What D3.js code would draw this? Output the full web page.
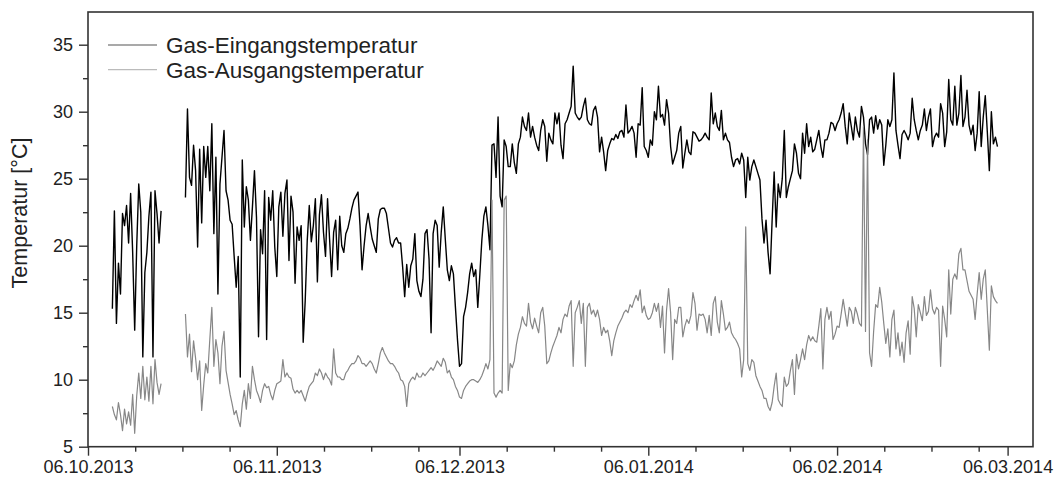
<!DOCTYPE html>
<html>
<head>
<meta charset="utf-8">
<script src="https://cdn.jsdelivr.net/npm/d3@7"></script>
<style>
  body { margin: 0; background: #fff; }
  svg { display: block; }
</style>
</head>
<body>
<svg id="chart"></svg>
<script>
// readings taken every 1/3 day, starting a number of days after 06.10.2013
const stepDays = 1 / 3;
const segmentStartDays = [4, 16];

// Gas-Eingangstemperatur, first and second measuring period (°C)
const eingang1 = [15.3, 22.6, 14.2, 18.7, 16.4, 22.4, 21.5, 23.0, 20.2, 23.9, 19.5, 13.7, 20.0, 24.6, 22.5, 11.7, 18.0, 19.5, 22.2, 24.0, 11.7, 24.1, 22.4, 20.2, 22.6];
const eingang2 = [
  23.6, 30.2, 25.1, 24.5, 27.5, 25.6, 19.9, 27.2, 21.7, 27.4,
  25.1, 27.4, 24.1, 29.1, 20.9, 26.6, 16.4, 24.6, 26.6, 28.6,
  24.1, 23.4, 21.9, 21.6, 19.2, 16.9, 19.2, 10.2, 26.4, 21.4,
  24.4, 23.4, 20.4, 22.9, 25.6, 22.1, 13.2, 21.2, 19.4, 24.1,
  13.0, 23.6, 21.9, 24.1, 19.9, 17.7, 22.9, 24.0, 20.7, 23.9,
  24.9, 18.9, 23.7, 22.5, 17.2, 21.4, 20.4, 21.5, 12.8, 15.9,
  20.4, 23.0, 20.3, 21.5, 23.5, 17.3, 22.3, 23.8, 21.0, 19.2,
  23.5, 20.5, 17.7, 21.0, 21.9, 18.2, 22.2, 20.0, 19.5, 20.9,
  21.3, 22.0, 22.8, 23.4, 23.7, 24.0, 21.5, 18.2, 20.0, 21.5,
  22.4, 21.4, 20.5, 20.0, 19.5, 22.0, 22.7, 22.8, 22.8, 22.4,
  21.3, 20.2, 19.9, 20.4, 20.6, 20.2, 20.2, 18.4, 16.2, 18.6,
  16.9, 18.5, 19.0, 20.9, 17.4, 16.6, 16.2, 17.5, 20.9, 21.2,
  19.0, 13.5, 20.9, 21.9, 21.5, 18.4, 21.0, 22.9, 20.5, 18.2,
  17.4, 18.5, 17.9, 15.4, 13.0, 11.0, 11.2, 14.7, 15.4, 16.5,
  17.9, 18.7, 17.7, 18.2, 15.4, 17.8, 20.4, 22.2, 22.9, 21.5,
  19.7, 27.5, 27.6, 25.1, 29.6, 23.7, 22.9, 27.9, 27.4, 25.9,
  25.9, 27.6, 26.2, 25.4, 27.6, 28.1, 29.6, 28.9, 28.6, 29.9,
  28.1, 28.9, 28.1, 27.5, 27.1, 28.6, 29.4, 28.9, 26.3, 28.4,
  27.9, 27.6, 29.9, 29.1, 29.9, 27.5, 26.5, 29.1, 29.4, 29.9,
  30.4, 33.4, 29.9, 29.6, 29.4, 29.6, 30.4, 31.0, 29.4, 29.1,
  29.0, 30.1, 30.4, 29.6, 27.0, 28.1, 27.0, 25.6, 27.1, 27.6,
  28.0, 27.9, 28.3, 28.0, 28.5, 28.6, 28.1, 30.5, 28.4, 28.6,
  28.9, 28.4, 26.6, 29.1, 29.0, 31.8, 27.4, 27.1, 26.6, 27.9,
  27.5, 30.0, 29.4, 31.9, 29.6, 29.8, 29.0, 30.9, 29.9, 27.4,
  26.1, 26.6, 27.1, 28.4, 28.9, 25.8, 26.9, 27.9, 27.0, 26.8,
  28.5, 28.4, 28.1, 27.8, 27.9, 28.1, 28.4, 28.1, 27.9, 31.4,
  29.1, 29.9, 28.9, 28.6, 30.1, 27.9, 28.4, 27.9, 27.7, 26.6,
  25.9, 26.4, 26.5, 26.1, 26.9, 26.4, 23.6, 26.6, 24.9, 25.9,
  26.4, 25.9, 25.4, 24.9, 22.0, 20.2, 21.9, 19.5, 17.9, 21.9,
  25.5, 21.4, 24.6, 23.6, 25.0, 28.6, 23.6, 24.4, 25.0, 25.6,
  27.6, 26.9, 25.4, 25.0, 28.4, 26.9, 29.1, 27.4, 28.1, 27.0,
  27.2, 27.9, 28.6, 27.4, 26.6, 27.9, 27.9, 28.4, 29.2, 29.1,
  28.6, 29.1, 29.4, 29.9, 30.6, 28.9, 27.6, 29.9, 28.9, 27.9,
  29.6, 28.6, 28.1, 30.4, 29.6, 27.6, 26.8, 29.4, 29.6, 28.4,
  29.7, 28.7, 29.4, 29.0, 26.0, 27.5, 29.4, 28.9, 29.4, 32.9,
  28.6, 27.5, 26.5, 28.3, 28.6, 28.3, 27.9, 28.4, 31.0, 29.4,
  28.6, 27.9, 28.6, 29.0, 30.2, 28.6, 29.6, 30.2, 27.4, 28.1,
  28.4, 28.1, 30.6, 29.9, 27.4, 28.5, 32.4, 29.4, 29.0, 31.9,
  29.0, 29.9, 32.7, 28.9, 29.6, 31.6, 29.0, 28.3, 29.0, 27.1,
  28.4, 31.5, 27.4, 29.6, 31.2, 28.5, 25.6, 30.0, 27.6, 28.1,
  27.4
];

// Gas-Ausgangstemperatur, first and second measuring period (°C)
const ausgang1 = [8.0, 7.4, 7.0, 8.3, 7.4, 6.2, 7.8, 6.7, 7.6, 6.6, 8.9, 6.0, 8.8, 10.5, 8.6, 11.0, 8.5, 10.2, 8.4, 11.0, 8.2, 11.5, 9.8, 8.9, 9.7];
const ausgang2 = [
  14.9, 11.7, 13.4, 10.6, 12.9, 11.6, 10.0, 11.4, 7.7, 9.6,
  11.2, 10.5, 13.0, 15.4, 11.0, 13.0, 12.0, 9.7, 12.5, 13.6,
  10.7, 9.8, 8.9, 8.2, 7.4, 7.7, 7.0, 6.5, 8.2, 9.2,
  7.8, 9.7, 8.6, 11.0, 10.0, 9.2, 8.8, 8.3, 9.2, 9.7,
  9.4, 9.5, 8.9, 8.5, 9.2, 9.7, 9.8, 9.9, 11.5, 10.2,
  10.5, 10.2, 10.1, 9.3, 9.0, 9.2, 9.0, 9.2, 8.8, 8.4,
  9.0, 9.5, 9.7, 9.9, 10.5, 10.3, 10.8, 10.5, 10.0, 10.5,
  10.2, 10.0, 9.6, 12.3, 10.5, 10.2, 10.2, 10.0, 10.0, 10.5,
  10.7, 11.0, 11.2, 11.2, 11.4, 11.8, 11.6, 11.2, 11.2, 11.0,
  11.2, 11.4, 11.2, 10.8, 10.5, 11.2, 12.0, 12.4, 12.0, 11.7,
  11.4, 11.2, 11.2, 11.0, 10.7, 10.5, 10.0, 9.9, 9.5, 8.0,
  9.7, 10.0, 10.2, 10.0, 10.5, 10.2, 10.2, 10.5, 10.3, 10.5,
  10.7, 10.9, 10.7, 11.0, 11.4, 11.2, 11.0, 11.6, 11.3, 10.5,
  10.7, 10.2, 10.0, 9.5, 9.2, 8.7, 8.6, 9.2, 9.5, 9.7,
  9.9, 10.0, 10.0, 9.9, 9.8, 10.0, 10.3, 10.7, 11.2, 10.8,
  11.5, 23.4, 9.0, 8.7, 9.0, 9.2, 9.0, 23.4, 23.7, 9.2,
  11.2, 10.9, 11.4, 12.6, 13.4, 13.9, 14.7, 14.2, 14.0, 15.7,
  14.3, 13.8, 14.6, 14.0, 13.5, 15.0, 15.4, 14.0, 11.2, 11.4,
  12.0, 12.5, 12.9, 13.3, 13.9, 13.5, 14.5, 14.9, 14.7, 15.5,
  15.9, 11.0, 15.0, 15.4, 15.9, 14.2, 15.7, 11.0, 15.4, 15.7,
  14.9, 15.2, 14.7, 15.2, 14.5, 13.3, 13.9, 13.5, 13.7, 12.9,
  11.8, 12.9, 13.5, 14.0, 14.3, 14.6, 15.0, 15.2, 15.0, 15.6,
  15.4, 15.9, 16.3, 15.9, 16.7, 15.0, 15.5, 14.8, 14.5, 14.6,
  15.0, 15.7, 15.1, 15.7, 13.9, 15.5, 12.0, 15.2, 16.8, 15.0,
  11.5, 14.5, 14.2, 15.4, 15.4, 13.2, 14.0, 14.5, 14.2, 14.8,
  16.5, 15.7, 13.7, 14.9, 14.8, 14.9, 14.5, 13.5, 14.8, 13.3,
  15.7, 16.2, 14.3, 13.5, 15.9, 14.9, 13.7, 13.9, 14.3, 13.5,
  13.2, 13.0, 12.7, 12.3, 10.2, 11.5, 21.4, 11.2, 10.7, 11.5,
  11.3, 10.3, 9.9, 9.5, 9.2, 8.6, 8.6, 8.0, 7.7, 8.3,
  9.5, 10.5, 8.5, 8.2, 8.0, 10.2, 9.5, 9.7, 10.7, 11.5,
  8.9, 11.9, 10.8, 11.5, 12.3, 11.5, 12.6, 13.3, 12.9, 13.2,
  12.9, 12.8, 14.0, 15.3, 10.8, 14.5, 15.4, 14.5, 15.1, 13.0,
  13.4, 14.0, 13.9, 14.9, 16.0, 15.0, 14.0, 15.4, 15.1, 14.2,
  15.4, 14.9, 14.2, 14.0, 28.9, 13.6, 27.9, 12.0, 11.0, 13.6,
  15.6, 15.4, 16.9, 15.8, 14.2, 12.7, 13.8, 11.7, 14.5, 15.2,
  12.3, 13.5, 11.8, 12.8, 11.3, 13.5, 14.4, 11.9, 16.2, 15.3,
  13.2, 15.6, 15.0, 14.4, 16.2, 14.8, 15.1, 16.7, 15.3, 14.9,
  15.4, 15.2, 11.0, 15.5, 14.5, 13.2, 18.2, 14.9, 17.5, 17.9,
  17.5, 19.4, 19.8, 18.2, 18.2, 17.4, 16.6, 16.3, 16.0, 14.5,
  16.4, 18.0, 16.0, 17.5, 18.2, 15.2, 12.2, 17.0, 16.2, 15.9,
  15.7
];

const seriesNames = ["Gas-Eingangstemperatur", "Gas-Ausgangstemperatur"];
const yMajorTicks = [5, 10, 15, 20, 25, 30, 35];
const yMinorTicks = [7.5, 12.5, 17.5, 22.5, 27.5, 32.5];
const xMajorTicks = ["2013-10-06", "2013-11-06", "2013-12-06", "2014-01-06", "2014-02-06", "2014-03-06"];

const width = 1057;
const height = 477;
const plot = { left: 88, right: 1033, top: 12, bottom: 446.7 };
const dayMs = 864e5;
const origin = Date.UTC(2013, 9, 6);
const fontFamily = "Arial, 'Liberation Sans', sans-serif";

const svg = d3.select("#chart").attr("width", width).attr("height", height);

const x = d3
  .scaleUtc()
  .domain([new Date(origin), new Date(origin + 155.17 * dayMs)])
  .range([plot.left, plot.right]);
const y = d3.scaleLinear().domain([5, 37.44]).range([plot.bottom, plot.top]);

const toPoints = (startDay, values) =>
  values.map((v, i) => ({ date: new Date(origin + (startDay + i * stepDays) * dayMs), value: v }));

const series = [
  { name: seriesNames[0], color: "#000", legendColor: "#555", lineWidth: 1.4, parts: [toPoints(segmentStartDays[0], eingang1), toPoints(segmentStartDays[1], eingang2)] },
  { name: seriesNames[1], color: "#878787", legendColor: "#bbb", lineWidth: 1.2, parts: [toPoints(segmentStartDays[0], ausgang1), toPoints(segmentStartDays[1], ausgang2)] }
];

const line = d3
  .line()
  .x((d) => x(d.date))
  .y((d) => y(d.value));

series.forEach((s) => {
  svg
    .append("g")
    .selectAll("path")
    .data(s.parts)
    .enter()
    .append("path")
    .attr("d", line)
    .attr("fill", "none")
    .attr("stroke", s.color)
    .attr("stroke-width", s.lineWidth)
    .attr("stroke-linejoin", "round");
});

// x ticks: labelled on the 6th of each month, minor ticks every 7.75 days after each
const majorDates = xMajorTicks.map((s) => new Date(s + "T00:00:00Z"));
const minorDates = [];
majorDates.forEach((d, i) => {
  const next = i + 1 < majorDates.length ? majorDates[i + 1] : x.domain()[1];
  for (let k = 1; k <= 3; k++) {
    const m = new Date(d.getTime() + k * 7.75 * dayMs);
    if (m < next) minorDates.push(m);
  }
});

const styleAxis = (g) => {
  g.select(".domain").remove();
  g.selectAll("line").attr("stroke", "#333").attr("stroke-width", 1.4);
  g.selectAll("text").attr("fill", "#222").attr("font-family", fontFamily).attr("font-size", 18);
};

svg
  .append("g")
  .attr("transform", `translate(0,${plot.bottom})`)
  .call(d3.axisBottom(x).tickValues(majorDates).tickFormat(d3.utcFormat("%d.%m.%Y")).tickSize(9).tickPadding(5))
  .call(styleAxis);

svg
  .append("g")
  .attr("transform", `translate(0,${plot.bottom})`)
  .call(d3.axisBottom(x).tickValues(minorDates).tickFormat("").tickSize(5))
  .call(styleAxis);

svg
  .append("g")
  .attr("transform", `translate(${plot.left},0)`)
  .call(d3.axisLeft(y).tickValues(yMajorTicks).tickSize(9).tickPadding(6))
  .call(styleAxis);

svg
  .append("g")
  .attr("transform", `translate(${plot.left},0)`)
  .call(d3.axisLeft(y).tickValues(yMinorTicks).tickFormat("").tickSize(5))
  .call(styleAxis);

// frame
svg
  .append("rect")
  .attr("x", plot.left)
  .attr("y", plot.top)
  .attr("width", plot.right - plot.left)
  .attr("height", plot.bottom - plot.top)
  .attr("fill", "none")
  .attr("stroke", "#333")
  .attr("stroke-width", 1.6);

// y axis title
svg
  .append("text")
  .attr("transform", `translate(27,213) rotate(-90)`)
  .attr("text-anchor", "middle")
  .attr("font-family", fontFamily)
  .attr("font-size", 21.5)
  .attr("fill", "#222")
  .text("Temperatur [°C]");

// legend
const legendItems = svg
  .append("g")
  .selectAll("g")
  .data(series)
  .enter()
  .append("g")
  .attr("transform", (d, i) => `translate(108,${45 + i * 24.7})`);

legendItems
  .append("line")
  .attr("x1", 0)
  .attr("x2", 49)
  .attr("stroke", (d) => d.legendColor)
  .attr("stroke-width", 1.2);

legendItems
  .append("text")
  .attr("x", 58)
  .attr("dy", "0.35em")
  .attr("font-family", fontFamily)
  .attr("font-size", 22.5)
  .attr("fill", "#222")
  .text((d) => d.name);
</script>
</body>
</html>
